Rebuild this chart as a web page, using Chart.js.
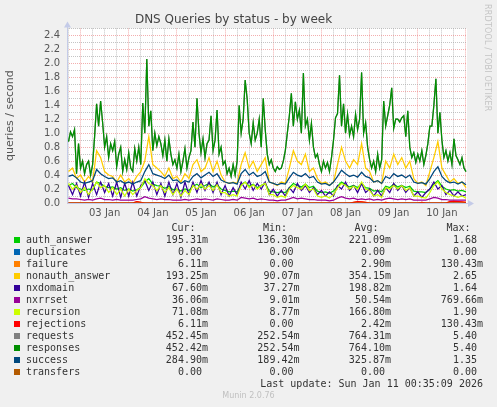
<!DOCTYPE html>
<html>
<head>
<meta charset="utf-8">
<script src="https://cdn.jsdelivr.net/npm/chart.js@4.4.1/dist/chart.umd.min.js"></script>
<style>
  html, body { margin: 0; padding: 0; background: #f0f0f0; }
  #wrap { position: relative; width: 497px; height: 407px; overflow: hidden; }
  #chart { position: absolute; left: 0; top: 0; }
  .mono { position: absolute; font-family: "DejaVu Sans Mono", monospace; font-size: 10px;
          line-height: 12px; height: 12px; color: #333; white-space: pre; }
  .sw { position: absolute; width: 6px; height: 6px; }
  #credit { position: absolute; right: 5px; top: 4px; font-family: "DejaVu Sans", sans-serif;
            font-size: 8px; color: #c4c4c4; writing-mode: vertical-rl; letter-spacing: 0.2px; }
  #munin { position: absolute; left: 0; width: 497px; top: 391px; text-align: center;
           font-family: "DejaVu Sans", sans-serif; font-size: 8px; color: #c0c0c0; }
</style>
</head>
<body>
<div id="wrap">
  <canvas id="chart" width="497" height="407"></canvas>
  <div id="credit">RRDTOOL / TOBI OETIKER</div>
  <div id="legend"></div>
  <div id="munin">Munin 2.0.76</div>
</div>
<script>
// time axis: hours since 03 Jan 00:00
const START_H = -6.75;
const END_H = 192.5;
const dayLabels = ["03 Jan", "04 Jan", "05 Jan", "06 Jan", "07 Jan", "08 Jan", "09 Jan", "10 Jan"];

// sample times (responses read hourly, the rest every 2 hours)
const hourly = [];
for (let h = -6; h <= 192; h++) hourly.push(h);
const twoHourly = [];
for (let h = -6; h <= 192; h += 2) twoHourly.push(h);

const responses = [
  0.88,1.02,0.95,1.05,0.42,0.85,0.5,0.6,0.42,0.55,
  0.6,0.4,0.55,0.95,1.42,1.1,1.46,1.15,0.8,0.95,
  0.65,0.85,0.75,0.88,0.52,0.7,0.8,0.45,0.62,0.48,
  0.72,0.5,0.45,0.78,0.6,0.8,0.55,1.43,1.0,2.06,
  1.1,1.32,0.75,1.0,0.82,0.95,0.85,0.68,0.9,0.6,
  0.92,0.7,0.55,0.62,0.5,0.7,0.45,0.6,0.78,0.5,
  0.65,0.75,1.16,0.8,1.5,1.0,0.72,0.92,0.65,0.85,
  0.9,1.25,0.75,0.9,1.33,0.7,0.8,0.55,0.6,0.42,
  0.5,0.38,0.55,0.4,0.6,1.4,1.0,1.2,1.76,1.49,
  1.0,0.85,1.15,0.9,1.0,1.2,0.8,1.5,1.05,0.7,
  0.55,0.62,0.5,0.45,0.52,0.48,0.5,0.6,0.75,1.0,
  1.25,1.57,1.1,1.45,1.2,1.33,1.0,1.86,1.1,1.2,
  0.9,1.14,0.8,0.65,0.7,0.55,0.45,0.6,0.5,0.58,
  0.45,0.65,0.9,1.22,1.28,1.83,1.1,1.42,1.0,1.27,
  0.97,1.1,0.95,1.27,1.05,1.2,1.87,1.0,1.15,0.8,
  0.62,0.5,0.6,0.45,0.7,0.5,0.62,1.46,1.1,1.25,
  1.4,1.65,1.07,1.2,1.2,1.16,1.22,1.25,0.95,1.32,
  0.8,0.65,0.72,0.58,0.7,0.6,0.75,0.55,0.68,0.85,
  1.1,1.1,1.4,1.78,1.0,1.3,0.9,0.65,0.75,0.6,
  0.72,0.55,0.92,0.68,0.62,0.55,0.65,0.5,0.45
];

const nonauthAnswer = [
  0.45,0.5,0.35,0.4,0.3,0.38,0.3,0.75,0.65,0.45,
  0.4,0.38,0.3,0.4,0.3,0.35,0.28,0.38,0.45,0.6,
  0.95,0.55,0.5,0.45,0.38,0.5,0.35,0.38,0.3,0.42,
  0.35,0.55,0.62,0.45,0.5,0.65,0.45,0.6,0.4,0.3,
  0.28,0.3,0.28,0.55,0.72,0.5,0.6,0.45,0.55,0.65,
  0.3,0.28,0.25,0.3,0.28,0.5,0.75,0.6,0.55,0.7,
  0.45,0.5,0.35,0.28,0.3,0.25,0.3,0.55,0.8,0.6,
  0.5,0.62,0.55,0.85,0.5,0.45,0.3,0.32,0.28,0.6,
  0.5,0.7,0.55,0.65,0.5,0.6,0.35,0.28,0.3,0.25,
  0.45,0.65,0.88,0.5,0.4,0.3,0.35,0.28,0.3,0.22
];

const success = [
  0.38,0.4,0.36,0.3,0.28,0.3,0.32,0.48,0.42,0.38,
  0.35,0.36,0.3,0.32,0.28,0.3,0.27,0.3,0.32,0.45,
  0.55,0.42,0.4,0.38,0.35,0.4,0.32,0.33,0.28,0.32,
  0.3,0.38,0.42,0.36,0.4,0.44,0.38,0.42,0.33,0.3,
  0.28,0.29,0.27,0.42,0.48,0.4,0.44,0.38,0.4,0.45,
  0.3,0.28,0.26,0.28,0.27,0.36,0.44,0.4,0.38,0.42,
  0.36,0.38,0.3,0.27,0.28,0.25,0.3,0.38,0.47,0.42,
  0.38,0.4,0.37,0.44,0.38,0.36,0.3,0.32,0.28,0.38,
  0.35,0.42,0.38,0.4,0.36,0.4,0.3,0.28,0.29,0.27,
  0.35,0.45,0.52,0.38,0.32,0.29,0.3,0.27,0.3,0.26
];

const nxdomain = [
  0.25,0.12,0.28,0.1,0.3,0.08,0.28,0.12,0.3,0.15,
  0.28,0.1,0.3,0.08,0.28,0.1,0.3,0.1,0.25,0.32,
  0.18,0.3,0.12,0.28,0.1,0.3,0.12,0.28,0.08,0.3,
  0.12,0.3,0.15,0.32,0.18,0.3,0.15,0.3,0.12,0.25,
  0.1,0.22,0.12,0.3,0.2,0.32,0.18,0.28,0.2,0.3,
  0.12,0.2,0.1,0.18,0.1,0.22,0.15,0.28,0.18,0.25,
  0.15,0.22,0.12,0.18,0.1,0.16,0.1,0.25,0.2,0.3,
  0.18,0.25,0.15,0.28,0.15,0.2,0.1,0.18,0.1,0.22,
  0.15,0.28,0.18,0.25,0.15,0.22,0.1,0.16,0.08,0.15,
  0.2,0.3,0.2,0.25,0.12,0.18,0.1,0.16,0.1,0.12
];

const recursion = [
  0.28,0.2,0.25,0.15,0.22,0.12,0.2,0.3,0.22,0.25,
  0.15,0.22,0.12,0.2,0.1,0.2,0.12,0.18,0.22,0.35,
  0.28,0.25,0.18,0.25,0.15,0.22,0.12,0.2,0.1,0.18,
  0.12,0.25,0.2,0.27,0.2,0.25,0.18,0.26,0.15,0.15,
  0.1,0.12,0.1,0.25,0.3,0.22,0.26,0.2,0.25,0.28,
  0.12,0.12,0.08,0.1,0.08,0.2,0.25,0.22,0.2,0.27,
  0.18,0.2,0.1,0.08,0.1,0.07,0.12,0.22,0.28,0.25,
  0.2,0.24,0.2,0.3,0.2,0.18,0.1,0.12,0.08,0.22,
  0.2,0.25,0.2,0.25,0.18,0.22,0.1,0.1,0.08,0.07,
  0.15,0.25,0.3,0.2,0.15,0.12,0.1,0.08,0.1,0.07
];

const authAnswer = [
  0.25,0.28,0.22,0.2,0.18,0.2,0.19,0.3,0.28,0.24,
  0.22,0.23,0.2,0.22,0.18,0.2,0.17,0.19,0.22,0.3,
  0.35,0.27,0.25,0.24,0.21,0.24,0.19,0.2,0.17,0.2,
  0.18,0.24,0.27,0.22,0.25,0.28,0.23,0.26,0.2,0.18,
  0.16,0.17,0.16,0.26,0.3,0.24,0.27,0.22,0.25,0.28,
  0.17,0.16,0.15,0.16,0.15,0.22,0.28,0.25,0.23,0.27,
  0.22,0.24,0.17,0.15,0.16,0.14,0.17,0.24,0.3,0.26,
  0.23,0.25,0.22,0.28,0.22,0.21,0.17,0.18,0.16,0.24,
  0.22,0.27,0.23,0.25,0.22,0.24,0.17,0.16,0.16,0.15,
  0.2,0.27,0.32,0.24,0.2,0.18,0.19,0.17,0.18,0.16
];

const nxrrset = [
  0.07,0.06,0.06,0.05,0.04,0.05,0.04,0.06,0.07,0.05,
  0.05,0.04,0.05,0.04,0.04,0.04,0.04,0.05,0.06,0.09,
  0.07,0.06,0.05,0.06,0.05,0.05,0.04,0.04,0.04,0.05,
  0.04,0.05,0.06,0.05,0.06,0.05,0.04,0.06,0.05,0.04,
  0.04,0.05,0.04,0.08,0.07,0.06,0.07,0.05,0.06,0.05,
  0.04,0.04,0.03,0.04,0.04,0.06,0.08,0.06,0.07,0.06,
  0.05,0.05,0.04,0.04,0.04,0.03,0.04,0.07,0.09,0.07,
  0.06,0.07,0.05,0.06,0.05,0.06,0.04,0.05,0.04,0.06,
  0.07,0.06,0.05,0.06,0.05,0.06,0.04,0.04,0.04,0.04,
  0.06,0.08,0.07,0.05,0.05,0.04,0.04,0.04,0.04,0.04
];

const rejections = [
  0,0,0,0,0,0,0,0,0,0,
  0,0,0,0,0,0,0,0.02,0.01,0,
  0,0,0,0,0,0,0,0,0,0,
  0,0,0,0,0,0,0,0,0,0,
  0,0,0,0,0,0,0,0,0,0,
  0,0,0,0,0,0,0,0,0,0,
  0,0,0,0,0,0,0,0,0,0,
  0,0.01,0.02,0.015,0.01,0,0,0,0,0.01,
  0,0,0,0,0,0,0,0,0.01,0,
  0,0,0,0,0,0.02,0.025,0.02,0.015,0.01
];

// series that stay flat at zero
const zeroHours = [-6, 192];
const zeroValues = [0, 0];

// legend table text
const seriesNames = ["auth_answer", "duplicates", "failure", "nonauth_answer", "nxdomain", "nxrrset",
  "recursion", "rejections", "requests", "responses", "success", "transfers"];
const curText = ["195.31m", "0.00", "6.11m", "193.25m", "67.60m", "36.06m", "71.08m", "6.11m", "452.45m", "452.42m", "284.90m", "0.00"];
const minText = ["136.30m", "0.00", "0.00", "90.07m", "37.27m", "9.01m", "8.77m", "0.00", "252.54m", "252.54m", "189.42m", "0.00"];
const avgText = ["221.09m", "0.00", "2.90m", "354.15m", "198.82m", "50.54m", "166.80m", "2.42m", "764.31m", "764.10m", "325.87m", "0.00"];
const maxText = ["1.68", "0.00", "130.43m", "2.65", "1.64", "769.66m", "1.90", "130.43m", "5.40", "5.40", "1.35", "0.00"];

const colors = ["#00CC00", "#0066B3", "#FF8000", "#FFCC00", "#330099", "#990099",
  "#CCFF00", "#FF0000", "#808080", "#008F00", "#00487D", "#B35A00"];

function pairs(hours, values) {
  return values.map((v, i) => ({ x: hours[i], y: v }));
}

const seriesData = [
  pairs(twoHourly, authAnswer),
  pairs(zeroHours, zeroValues),
  pairs(twoHourly, rejections),
  pairs(twoHourly, nonauthAnswer),
  pairs(twoHourly, nxdomain),
  pairs(twoHourly, nxrrset),
  pairs(twoHourly, recursion),
  pairs(twoHourly, rejections),
  pairs(hourly, responses),
  pairs(hourly, responses),
  pairs(twoHourly, success),
  pairs(zeroHours, zeroValues)
];

// ---- legend below the plot ----
const legend = document.getElementById("legend");
const colRight = [208, 299.5, 391, 483];
function addText(txt, top, left, right) {
  const d = document.createElement("div");
  d.className = "mono";
  d.textContent = txt;
  d.style.top = top + "px";
  if (right !== undefined) { d.style.right = (497 - right) + "px"; d.style.textAlign = "right"; }
  else d.style.left = left + "px";
  legend.appendChild(d);
}
["Cur:", "Min:", "Avg:", "Max:"].forEach((h, i) => addText(h, 221.5, null, colRight[i] - 12.5));
seriesNames.forEach((name, i) => {
  const top = 233.5 + 12 * i;
  const sw = document.createElement("div");
  sw.className = "sw";
  sw.style.left = "14px";
  sw.style.top = (top + 3) + "px";
  sw.style.background = colors[i];
  legend.appendChild(sw);
  addText(name, top, 26);
  [curText, minText, avgText, maxText].forEach((col, c) => {
    const v = col[i];
    addText(v.endsWith("m") ? v : v + " ", top, null, colRight[c]);
  });
});
addText("Last update: Sun Jan 11 00:35:09 2026", 377.5, null, 483);

// ---- chart ----
const gridHours = [];
for (let h = -6; h <= 192; h += 6) gridHours.push(h);

const MAJOR = "rgba(235,120,120,0.6)";
const MINOR = "rgba(165,165,165,0.65)";

const plotBackground = {
  id: "plotBackground",
  beforeDraw(chart) {
    const { ctx, chartArea: a } = chart;
    ctx.save();
    ctx.fillStyle = "#ffffff";
    ctx.fillRect(a.left, a.top, a.right - a.left, a.bottom - a.top);
    ctx.restore();
  }
};

const axisArrows = {
  id: "axisArrows",
  beforeDatasetsDraw(chart) {
    const { ctx, chartArea: a } = chart;
    const x0 = Math.round(a.left) + 0.5, y0 = Math.round(a.bottom) + 0.5;
    ctx.save();
    ctx.strokeStyle = "#c4cbe8";
    ctx.fillStyle = "#c4cbe8";
    ctx.lineWidth = 1;
    ctx.beginPath();
    ctx.moveTo(x0, y0); ctx.lineTo(x0, a.top - 3);
    ctx.moveTo(x0, y0); ctx.lineTo(a.right + 3, y0);
    ctx.stroke();
    ctx.beginPath();
    ctx.moveTo(x0, a.top - 7); ctx.lineTo(x0 - 3.5, a.top - 1); ctx.lineTo(x0 + 3.5, a.top - 1);
    ctx.closePath(); ctx.fill();
    ctx.beginPath();
    ctx.moveTo(a.right + 7, y0); ctx.lineTo(a.right + 1, y0 - 3.5); ctx.lineTo(a.right + 1, y0 + 3.5);
    ctx.closePath(); ctx.fill();
    ctx.restore();
  }
};

const ctx = document.getElementById("chart").getContext("2d");
new Chart(ctx, {
  type: "line",
  data: {
    datasets: seriesNames.map((name, i) => ({
      label: name,
      data: seriesData[i],
      borderColor: colors[i],
      backgroundColor: colors[i],
      borderWidth: 1.25,
      pointRadius: 0,
      tension: 0,
      fill: false,
      order: seriesNames.length - 1 - i
    }))
  },
  options: {
    responsive: false,
    devicePixelRatio: 1,
    animation: false,
    layout: { padding: { left: 0, right: 30, top: 0, bottom: 184 } },
    plugins: {
      legend: { display: false },
      tooltip: { enabled: false },
      title: {
        display: true,
        text: "DNS Queries by status - by week",
        color: "#444",
        font: { family: "DejaVu Sans", size: 12, weight: "normal" },
        padding: { top: 12.5, bottom: 1.5 }
      }
    },
    scales: {
      x: {
        type: "linear",
        min: START_H,
        max: END_H,
        afterBuildTicks(scale) { scale.ticks = gridHours.map(v => ({ value: v })); },
        afterFit(scale) { scale.height = 20; },
        grid: {
          drawTicks: false,
          color: c => (c.tick && c.tick.value % 24 === 0) ? MAJOR : MINOR
        },
        border: { display: false, dash: [1, 1] },
        ticks: {
          autoSkip: false,
          maxRotation: 0,
          padding: 4,
          color: "#555",
          font: { family: "DejaVu Sans", size: 10 },
          callback: v => ((v - 12) % 24 === 0 && dayLabels[(v - 12) / 24]) ? dayLabels[(v - 12) / 24] : ""
        }
      },
      y: {
        min: 0,
        max: 2.5,
        afterFit(scale) { scale.width = 67; },
        title: {
          display: true,
          text: "queries / second",
          color: "#555",
          font: { family: "DejaVu Sans", size: 11 },
          padding: { top: 4, bottom: 0 }
        },
        grid: {
          drawTicks: false,
          color: c => (c.tick && Math.round(c.tick.value * 10) % 2 === 0) ? MAJOR : MINOR
        },
        border: { display: false, dash: [1, 1] },
        ticks: {
          stepSize: 0.1,
          autoSkip: false,
          padding: 7,
          color: "#555",
          font: { family: "DejaVu Sans", size: 10 },
          callback: v => Math.round(v * 10) % 2 === 0 ? v.toFixed(1) : ""
        }
      }
    }
  },
  plugins: [plotBackground, axisArrows]
});
</script>
</body>
</html>
